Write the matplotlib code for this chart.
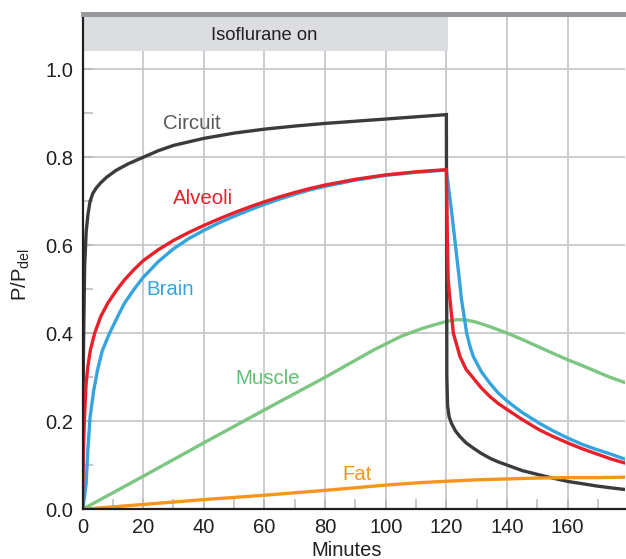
import matplotlib
matplotlib.use("Agg")
import matplotlib.pyplot as plt

plt.rcParams['font.family'] = ['Liberation Sans', 'DejaVu Sans']
plt.rcParams['mathtext.fontset'] = 'custom'
plt.rcParams['mathtext.rm'] = 'Liberation Sans'
plt.rcParams['mathtext.it'] = 'Liberation Sans:italic'

# ---- data ----
circuit_t = [0, 0.3, 0.7, 1.2, 1.8, 2.5, 3.4, 4.5, 6, 8, 11, 15, 20, 25, 30, 40, 50, 60, 70, 80,
             90, 100, 110, 120, 120.15, 120.4, 120.9, 121.7, 123, 124.5, 126.5, 128.9, 131.5,
             134.4, 137, 140.2, 145, 150.8, 155, 160.3, 165, 169.5, 174, 178.9]
circuit_v = [0, 0.35, 0.55, 0.63, 0.67, 0.70, 0.718, 0.73, 0.742, 0.755, 0.77, 0.785, 0.80, 0.815,
             0.827, 0.843, 0.855, 0.864, 0.871, 0.877, 0.882, 0.887, 0.892, 0.897, 0.30, 0.235,
             0.21, 0.195, 0.178, 0.165, 0.151, 0.139, 0.127, 0.116, 0.108, 0.100, 0.088, 0.078,
             0.071, 0.063, 0.058, 0.053, 0.049, 0.045]

alveoli_t = [0, 0.1, 0.3, 0.66, 1.2, 1.75, 2.6, 4, 6, 8.3, 11, 13.8, 17, 20, 25, 30, 35, 40, 45,
             50, 55, 60, 65, 70, 75, 80, 90, 100, 110, 120, 120.3, 120.6, 121.2, 122.3, 124.5,
             126.5, 128.9, 131.5, 134.4, 137, 140.2, 145, 150.8, 155, 160.3, 165, 169.5, 174, 178.9]
alveoli_v = [0, 0.059, 0.135, 0.21, 0.286, 0.324, 0.362, 0.40, 0.438, 0.468, 0.496, 0.521, 0.545,
             0.565, 0.59, 0.611, 0.629, 0.645, 0.66, 0.674, 0.687, 0.699, 0.71, 0.72, 0.729, 0.737,
             0.75, 0.76, 0.767, 0.772, 0.62, 0.521, 0.476, 0.40, 0.347, 0.318, 0.298, 0.276, 0.256,
             0.241, 0.226, 0.204, 0.18, 0.166, 0.15, 0.137, 0.126, 0.115, 0.105]

brain_t = [0, 0.6, 1.2, 1.76, 2.5, 3.7, 5.0, 6.5, 8.9, 11.6, 13.8, 17, 20, 25, 30, 35, 40, 45, 50,
           55, 60, 65, 70, 75, 80, 90, 100, 110, 120, 122, 124.3, 125, 126.7, 127.8, 128.9, 131.5,
           134.4, 137, 140.2, 145, 150.8, 155, 160.3, 165, 169.5, 174, 178.9]
brain_v = [0, 0.025, 0.059, 0.135, 0.21, 0.27, 0.318, 0.36, 0.40, 0.438, 0.468, 0.50, 0.527, 0.563,
           0.592, 0.615, 0.634, 0.651, 0.666, 0.68, 0.693, 0.705, 0.716, 0.726, 0.734, 0.748,
           0.759, 0.766, 0.771, 0.66, 0.521, 0.476, 0.40, 0.37, 0.347, 0.313, 0.286, 0.265, 0.245,
           0.22, 0.195, 0.179, 0.161, 0.147, 0.136, 0.126, 0.114]

muscle_t = [0, 20, 40, 60, 80, 96, 105, 112, 117.9, 120, 123.4, 126.7, 130, 134.4, 140.2, 145,
            150.8, 155, 160.3, 165, 169.5, 174, 178.9]
muscle_v = [0, 0.075, 0.151, 0.226, 0.30, 0.362, 0.393, 0.411, 0.423, 0.427, 0.431, 0.43, 0.425,
            0.415, 0.40, 0.386, 0.368, 0.355, 0.339, 0.326, 0.313, 0.30, 0.288]

fat_t = [0, 20, 40, 60, 80, 100, 110, 117.9, 130, 140, 150, 160, 170, 179]
fat_v = [0, 0.011, 0.022, 0.032, 0.043, 0.055, 0.060, 0.063, 0.067, 0.069, 0.071, 0.072, 0.072, 0.073]

x_ticks = [0, 20, 40, 60, 80, 100, 120, 140, 160]
y_ticks = [0.0, 0.2, 0.4, 0.6, 0.8, 1.0]
y_ticklabels = ['0.0', '0.2', '0.4', '0.6', '0.8', '1.0']

# ---- colours ----
c_circuit = '#3b3b3d'
c_alveoli = '#e8202a'
c_brain = '#35a3dd'
c_muscle = '#7cc682'
c_fat = '#f7941d'
grid_c = '#c7c8cc'
text_c = '#231f20'

W, H = 626, 559
fig = plt.figure(figsize=(W / 100, H / 100), dpi=100)
x0, x1 = 82.5, 625.3
y0, y1 = 509.3, 14.3
ax = fig.add_axes([x0 / W, (H - y0) / H, (x1 - x0) / W, (y0 - y1) / H])

ax.set_xlim(0, 179)
ax.set_ylim(0, 1.125)
ax.set_axisbelow(True)

# band "Isoflurane on"
ax.fill_between([0, 120.5], 1.042, 1.125, color='#dcdde0', lw=0, zorder=1)
ax.text(60, 1.0666, 'Isoflurane on', ha='center', va='baseline', fontsize=13.2, color=text_c, zorder=3)

lw = 2.4
ax.plot(muscle_t, muscle_v, color=c_muscle, lw=lw, zorder=2, solid_joinstyle='round')
ax.plot(circuit_t, circuit_v, color=c_circuit, lw=lw, zorder=2.2, solid_joinstyle='miter')
ax.plot(fat_t, fat_v, color=c_fat, lw=lw, zorder=2.3, solid_joinstyle='round')
ax.plot(brain_t, brain_v, color=c_brain, lw=lw, zorder=2.4, solid_joinstyle='round')
ax.plot(alveoli_t, alveoli_v, color=c_alveoli, lw=lw, zorder=2.5, solid_joinstyle='miter')

fs = 14.7
ax.text(26.5, 0.864, 'Circuit', color='#58585a', fontsize=fs, va='baseline', ha='left')
ax.text(29.8, 0.695, 'Alveoli', color=c_alveoli, fontsize=fs, va='baseline', ha='left')
ax.text(21.0, 0.487, 'Brain', color=c_brain, fontsize=fs, va='baseline', ha='left')
ax.text(50.3, 0.285, 'Muscle', color='#5fbf72', fontsize=fs, va='baseline', ha='left')
ax.text(85.8, 0.0666, 'Fat', color=c_fat, fontsize=fs, va='baseline', ha='left')

# ticks & grid
ax.set_xticks(x_ticks)
ax.set_xticks([10, 30, 50, 70, 90, 110, 130, 150, 170], minor=True)
ax.set_yticks(y_ticks)
ax.set_yticklabels(y_ticklabels)
ax.set_yticks([0.1, 0.3, 0.5, 0.7, 0.9], minor=True)
ax.grid(True, which='major', color=grid_c, lw=1.3)
ax.tick_params(which='both', direction='in', length=7, width=1.1, color='#b5b6ba',
               labelsize=14.5, labelcolor=text_c, pad=6.5)

ax.spines['right'].set_visible(False)
ax.spines['top'].set_color('#98999d')
ax.spines['top'].set_linewidth(3.6)
ax.spines['left'].set_color('#231f20')
ax.spines['left'].set_linewidth(1.6)
ax.spines['bottom'].set_color('#231f20')
ax.spines['bottom'].set_linewidth(1.6)

ax.set_xlabel('Minutes', fontsize=14.5, color=text_c)
ax.xaxis.set_label_coords((347 - x0) / (x1 - x0), (y0 - 560) / (y0 - y1), transform=ax.transAxes)
ax.xaxis.label.set_va('bottom')
ax.set_ylabel(r'P/P$_{\rm del}$', fontsize=14.5, color=text_c)
ax.yaxis.set_label_coords((32 - x0) / (x1 - x0), (y0 - 275) / (y0 - y1))

fig.savefig('out.png', dpi=100)
